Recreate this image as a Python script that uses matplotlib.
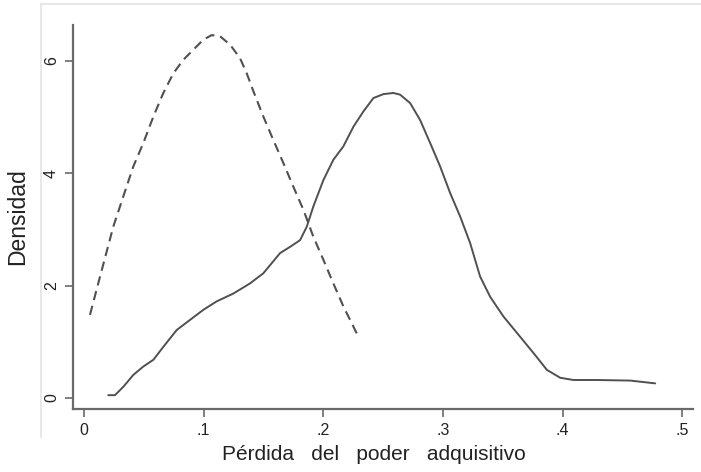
import numpy as np
import matplotlib
matplotlib.use("Agg")
from matplotlib import pyplot as plt
from matplotlib.lines import Line2D

plt.rcParams["font.family"] = ["Liberation Sans", "DejaVu Sans"]

# dashed density
dash_x = [0.0050, 0.0134, 0.0245, 0.0329, 0.0412, 0.0496, 0.0580, 0.0663,
          0.0747, 0.0830, 0.0914, 0.0998, 0.1067, 0.1137, 0.1221, 0.1304,
          0.1360, 0.1416, 0.1499, 0.1583, 0.1667, 0.1750, 0.1834, 0.1917,
          0.2001, 0.2084, 0.2168, 0.2280]
dash_y = [1.48, 2.16, 3.05, 3.59, 4.12, 4.54, 5.01, 5.43,
          5.78, 6.02, 6.20, 6.38, 6.46, 6.44, 6.29, 6.05,
          5.78, 5.46, 5.01, 4.59, 4.18, 3.76, 3.35, 2.87,
          2.46, 2.04, 1.63, 1.15]

# solid density
solid_x = [0.0203, 0.0259, 0.0329, 0.0412, 0.0496, 0.0580, 0.0663, 0.0775,
           0.0886, 0.0998, 0.1109, 0.1249, 0.1388, 0.1499, 0.1639, 0.1722,
           0.1806, 0.1862, 0.1917, 0.2001, 0.2084, 0.2168, 0.2252, 0.2335,
           0.2419, 0.2503, 0.2586, 0.2642, 0.2726, 0.2809, 0.2893, 0.2977,
           0.3060, 0.3144, 0.3227, 0.3311, 0.3395, 0.3506, 0.3645, 0.3757,
           0.3869, 0.3980, 0.4091, 0.4287, 0.4565, 0.4774]
solid_y = [0.05, 0.05, 0.20, 0.41, 0.56, 0.68, 0.91, 1.21,
           1.39, 1.57, 1.72, 1.86, 2.04, 2.22, 2.58, 2.69,
           2.81, 3.05, 3.41, 3.88, 4.24, 4.48, 4.83, 5.10,
           5.34, 5.41, 5.43, 5.40, 5.25, 4.95, 4.54, 4.12,
           3.65, 3.23, 2.76, 2.16, 1.80, 1.45, 1.09, 0.80,
           0.50, 0.36, 0.32, 0.32, 0.31, 0.26]

xticks = [0, 0.1, 0.2, 0.3, 0.4, 0.5]
xtick_labels = ["0", ".1", ".2", ".3", ".4", ".5"]
yticks = [0, 2, 4, 6]
ytick_labels = ["0", "2", "4", "6"]

line_col = "#505050"
axis_col = "#6a6a6a"
text_col = "#222222"

fig = plt.figure(figsize=(7.01, 4.72), dpi=100)
fig.patch.set_facecolor("white")

# faint frame of the original graph region
fig.add_artist(Line2D([0.0585, 0.0585], [0.074, 0.9915], transform=fig.transFigure,
                      color="#e4e4e4", lw=1.2))
fig.add_artist(Line2D([0.0585, 1.0], [0.9915, 0.9915], transform=fig.transFigure,
                      color="#e4e4e4", lw=1.2))

ax = fig.add_axes([0.1041, 0.1335, 0.8845, 0.8135])
ax.plot(dash_x, dash_y, color=line_col, lw=1.5, ls=(0, (4.5, 2.8)),
        dash_capstyle="butt", solid_joinstyle="round")
ax.plot(solid_x, solid_y, color=line_col, lw=1.4,
        solid_joinstyle="round", solid_capstyle="round")

ax.set_xlim(-0.0092, 0.509)
ax.set_ylim(-0.196, 6.64)

for s in ["top", "right"]:
    ax.spines[s].set_visible(False)
for s in ["left", "bottom"]:
    ax.spines[s].set_color(axis_col)
    ax.spines[s].set_linewidth(1.6)

ax.set_xticks(xticks)
ax.set_xticklabels(xtick_labels)
ax.set_yticks(yticks)
ax.set_yticklabels(ytick_labels, rotation=90, va="center")
ax.tick_params(axis="both", direction="out", length=6, width=1.2, color=axis_col,
               labelcolor=text_col, labelsize=11.5, pad=4)

ax.set_xlabel("Pérdida   del   poder   adquisitivo", fontsize=15, color=text_col)
ax.xaxis.set_label_coords(0.485, -0.093)
ax.set_ylabel("Densidad", fontsize=16.5, color=text_col, labelpad=11)

fig.savefig("out.png", dpi=100)
